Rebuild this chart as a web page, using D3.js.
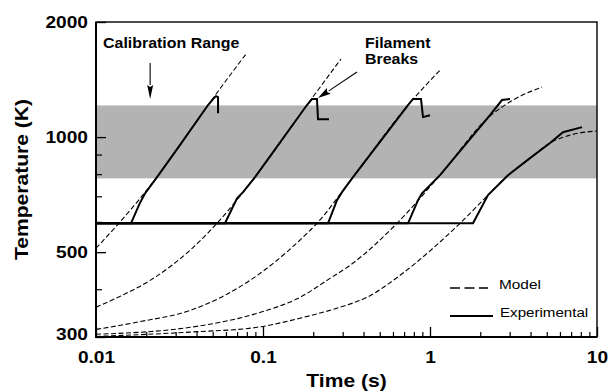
<!DOCTYPE html>
<html>
<head>
<meta charset="utf-8">
<script src="https://cdn.jsdelivr.net/npm/d3@7"></script>
<style>
  body { margin: 0; background: #fff; }
  svg { display: block; }
</style>
</head>
<body>
<svg width="610" height="392"></svg>
<script>
// values: [time (s), temperature (K)]
var model1 = [[0.0100, 512], [0.0137, 595], [0.0183, 690], [0.0232, 786], [0.0318, 953], [0.0469, 1213], [0.0791, 1649]];
var model2 = [[0.0100, 359], [0.0139, 383], [0.0211, 422], [0.0366, 506], [0.0530, 595], [0.0896, 786], [0.1834, 1213], [0.2931, 1600]];
var model3 = [[0.0100, 314], [0.0183, 329], [0.0366, 352], [0.0836, 422], [0.1666, 538], [0.2105, 595], [0.3459, 786], [0.7385, 1213], [1.164, 1506]];
var model4 = [[0.0100, 305], [0.0366, 318], [0.0921, 346], [0.1666, 381], [0.2519, 427], [0.3319, 462], [0.6344, 595], [1.148, 795], [2.287, 1135], [3.141, 1250], [4.685, 1352]];
var model5 = [[0.0100, 301], [0.0366, 309], [0.0921, 318], [0.1666, 336], [0.2891, 359], [0.4195, 381], [0.6613, 435], [1.042, 512], [1.512, 595], [2.225, 705], [2.932, 795], [3.971, 881], [5.232, 965], [6.891, 1012], [10.0, 1037]];

var exp1 = [[0.0100, 595], [0.0162, 595], [0.0183, 672], [0.0197, 713], [0.0232, 786], [0.0318, 953], [0.0469, 1213], [0.0502, 1257], [0.0523, 1280], [0.0538, 1272], [0.0538, 1155]];
var exp2 = [[0.0100, 595], [0.0592, 595], [0.0699, 692], [0.0759, 718], [0.0896, 786], [0.1834, 1213], [0.1965, 1257], [0.2105, 1257], [0.2135, 1114], [0.2484, 1114]];
var exp3 = [[0.0100, 595], [0.2451, 595], [0.2774, 684], [0.2972, 718], [0.3459, 786], [0.7385, 1213], [0.7911, 1257], [0.8834, 1257], [0.9081, 1128], [1.000, 1141]];
var exp4 = [[0.0100, 595], [0.7385, 595], [0.8477, 684], [0.8956, 713], [1.148, 795], [2.287, 1141], [2.699, 1250], [3.013, 1257]];
var exp5 = [[0.0100, 595], [1.809, 595], [2.225, 705], [2.932, 795], [3.971, 881], [5.232, 965], [6.257, 1030], [8.135, 1062]];

var calibRange = [780, 1210];
var xMajor = [0.01, 0.1, 1, 10];
var xLabels = ['0.01', '0.1', '1', '10'];
var yMajor = [300, 500, 1000, 2000];
var yLabels = ['300', '500', '1000', '2000'];
var yMinor = [400, 600, 700, 800, 900];
// annotation arrows: [from, to] in data units
var calibArrow = [[0.0211, 1562], [0.0211, 1257]];
var breakArrow = [[0.3655, 1480], [0.2135, 1265]];

(function () {
    var font = '"Liberation Sans", Arial, Helvetica, sans-serif';
    var pL = 96, pR = 597, pT = 22, pB = 337;

    var svg = d3.select('svg');

    var x = d3.scaleLog().domain([0.01, 10]).range([pL, pR]);
    var y = d3.scaleLog().domain([300, 2000]).range([pB, pT]);

    svg.append('defs').append('clipPath').attr('id', 'plot')
        .append('rect')
        .attr('x', pL).attr('y', pT)
        .attr('width', pR - pL).attr('height', pB - pT);

    // calibration band
    svg.append('rect')
        .attr('x', x(0.01))
        .attr('width', x(10) - x(0.01))
        .attr('y', y(calibRange[1]))
        .attr('height', y(calibRange[0]) - y(calibRange[1]))
        .attr('fill', '#b3b3b3');

    var smooth = d3.line()
        .x(d => x(d[0]))
        .y(d => y(d[1]))
        .curve(d3.curveMonotoneX);
    var straight = d3.line()
        .x(d => x(d[0]))
        .y(d => y(d[1]));

    var plot = svg.append('g').attr('clip-path', 'url(#plot)');

    plot.selectAll('path.model')
        .data([model1, model2, model3, model4, model5])
        .enter().append('path')
        .attr('class', 'model')
        .attr('d', smooth)
        .attr('fill', 'none')
        .attr('stroke', '#000')
        .attr('stroke-width', 1.1)
        .attr('stroke-dasharray', '5,2.5');

    plot.selectAll('path.exp')
        .data([exp1, exp2, exp3, exp4, exp5])
        .enter().append('path')
        .attr('class', 'exp')
        .attr('d', straight)
        .attr('fill', 'none')
        .attr('stroke', '#000')
        .attr('stroke-width', 2)
        .attr('stroke-linejoin', 'miter');

    // axes, ticks pointing inward
    function styleText(g, size, sx, dx) {
        g.selectAll('text')
            .attr('font-family', font)
            .attr('font-size', size)
            .attr('font-weight', 'bold')
            .attr('fill', '#000')
            .attr('transform', `scale(${sx},1)`);
        if (dx != null) g.selectAll('text').attr('x', dx / sx);
    }

    var xMinor = x.ticks().filter(d => xMajor.indexOf(+d.toPrecision(3)) < 0);

    svg.append('g')
        .attr('transform', `translate(0,${pB})`)
        .call(d3.axisBottom(x).tickValues(xMinor).tickFormat('').tickSizeInner(-5).tickSizeOuter(0))
        .call(g => g.select('.domain').remove())
        .selectAll('line').attr('stroke-width', 1.2);

    svg.append('g')
        .attr('transform', `translate(0,${pB})`)
        .call(d3.axisBottom(x).tickValues(xMajor).tickFormat((d, i) => xLabels[i])
            .tickSizeInner(-10).tickSizeOuter(0).tickPadding(14))
        .call(g => g.select('.domain').remove())
        .call(g => g.selectAll('line').attr('stroke-width', 1.3))
        .call(g => styleText(g, 16.5, 1.16));

    svg.append('g')
        .attr('transform', `translate(${pL},0)`)
        .call(d3.axisLeft(y).tickValues(yMinor).tickFormat('').tickSizeInner(-6).tickSizeOuter(0))
        .call(g => g.select('.domain').remove())
        .selectAll('line').attr('stroke-width', 1.2);

    svg.append('g')
        .attr('transform', `translate(${pL},0)`)
        .call(d3.axisLeft(y).tickValues(yMajor).tickFormat((d, i) => yLabels[i])
            .tickSizeInner(-10).tickSizeOuter(0).tickPadding(8))
        .call(g => g.select('.domain').remove())
        .call(g => g.selectAll('line').attr('stroke-width', 1.3))
        .call(g => styleText(g, 16.5, 1.16, -8))
        .call(g => g.selectAll('text').filter(d => d === 300).attr('dy', '0.18em'));

    // frame
    svg.append('rect')
        .attr('x', pL).attr('y', pT)
        .attr('width', pR - pL).attr('height', pB - pT)
        .attr('fill', 'none').attr('stroke', '#000').attr('stroke-width', 1.4);
    svg.append('path')
        .attr('d', `M${pL},${pT}V${pB}H${pR}`)
        .attr('fill', 'none').attr('stroke', '#000').attr('stroke-width', 2);

    function label(txt, px, py, opt) {
        opt = opt || {};
        var t = `translate(${px},${py})` + (opt.rotate ? ` rotate(${opt.rotate})` : '') + ` scale(${opt.sx || 1},1)`;
        return svg.append('text')
            .attr('transform', t)
            .attr('font-family', font)
            .attr('font-size', opt.size || 14)
            .attr('font-weight', opt.weight || 'bold')
            .attr('text-anchor', opt.anchor || 'start')
            .attr('fill', '#000')
            .text(txt);
    }

    // axis titles
    label('Time (s)', (pL + pR) / 2, 387, {size: 18, sx: 1.17, anchor: 'middle'});
    label('Temperature (K)', 28, (pT + pB) / 2, {size: 18, sx: 1.17, anchor: 'middle', rotate: -90});

    // annotations
    label('Calibration Range', 103, 48, {size: 14, sx: 1.14});
    label('Filament', 365, 48, {size: 14, sx: 1.14});
    label('Breaks', 365, 64, {size: 14, sx: 1.14});

    function arrow(a, len, hw) {
        var x1 = x(a[0][0]), y1 = y(a[0][1]), x2 = x(a[1][0]), y2 = y(a[1][1]);
        var dx = x2 - x1, dy = y2 - y1, d = Math.sqrt(dx * dx + dy * dy);
        var ux = dx / d, uy = dy / d;
        var bx = x2 - ux * len, by = y2 - uy * len;
        svg.append('line')
            .attr('x1', x1).attr('y1', y1).attr('x2', bx).attr('y2', by)
            .attr('stroke', '#000').attr('stroke-width', 1.1);
        svg.append('path')
            .attr('d', `M${x2},${y2}L${bx - uy * hw},${by + ux * hw}L${bx + ux * 2},${by + uy * 2}L${bx + uy * hw},${by - ux * hw}Z`)
            .attr('fill', '#000');
    }
    arrow(calibArrow, 14, 3);
    arrow(breakArrow, 13, 3.5);

    // legend
    svg.append('line')
        .attr('x1', 450).attr('x2', 488).attr('y1', 288).attr('y2', 288)
        .attr('stroke', '#000').attr('stroke-width', 1.4).attr('stroke-dasharray', '10,4.5');
    svg.append('line')
        .attr('x1', 450).attr('x2', 493).attr('y1', 316).attr('y2', 316)
        .attr('stroke', '#000').attr('stroke-width', 2);
    label('Model', 499, 289, {size: 13.5, sx: 1.14, weight: 'normal'});
    label('Experimental', 500, 317, {size: 13.5, sx: 1.12, weight: 'normal'});
})();
</script>
</body>
</html>
